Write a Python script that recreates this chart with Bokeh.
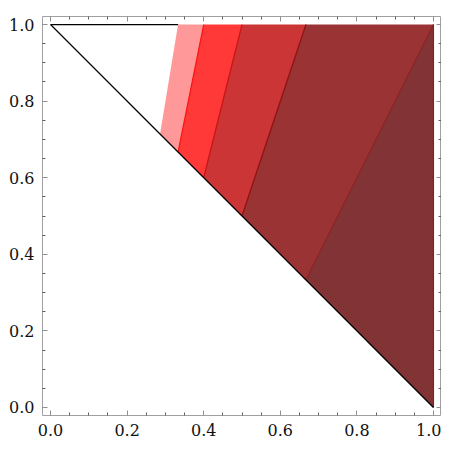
from bokeh.plotting import figure
from bokeh.models import LinearAxis, FixedTicker, PrintfTickFormatter, Range1d
from bokeh.embed import file_html
from bokeh.resources import INLINE

# Band boundaries: each runs from a point on the top edge (y = 1) to a point on the diagonal x + y = 1
top_x = [0.333, 0.4, 0.5, 0.667, 1.0]
diag_x = [0.286, 0.333, 0.4, 0.5, 0.667]
corner_x = [1.0]          # lower right corner of the triangle
corner_y = [0.0]
fill_colors = ["#FF9999", "#FF3838", "#CC3535", "#9A3334", "#813335"]
edge_colors = [None, "#FF1010", "#C80F0F", "#8A1010", "#8A2020"]

major_ticks = [0.0, 0.2, 0.4, 0.6, 0.8, 1.0]
minor_ticks = [0.05, 0.1, 0.15, 0.25, 0.3, 0.35, 0.45, 0.5, 0.55, 0.65, 0.7, 0.75, 0.85, 0.9, 0.95]

p = figure(frame_width=399, frame_height=399, output_backend="svg", toolbar_location=None,
           x_range=Range1d(-0.021, 1.021), y_range=Range1d(-0.021, 1.021),
           x_axis_location=None, y_axis_location=None,
           min_border_left=42, min_border_right=0, min_border_top=16, min_border_bottom=38)
p.grid.visible = False
p.background_fill_color = "white"
p.border_fill_color = "white"
p.outline_line_color = "#A0A0A0"
p.outline_line_width = 1

# band polygons
xs, ys = [], []
n = len(top_x)
for i in range(n - 1):
    xs.append([top_x[i], top_x[i + 1], diag_x[i + 1], diag_x[i]])
    ys.append([1.0, 1.0, 1 - diag_x[i + 1], 1 - diag_x[i]])
xs.append([top_x[-1], corner_x[0], diag_x[-1]])
ys.append([1.0, corner_y[0], 1 - diag_x[-1]])
p.patches(xs, ys, fill_color=fill_colors, line_color=None)

# boundary lines between bands
for i in range(1, n):
    p.line([top_x[i], diag_x[i]], [1.0, 1 - diag_x[i]], line_color=edge_colors[i], line_width=1.2)
p.line([corner_x[0], corner_x[0]], [1.0, corner_y[0]], line_color=edge_colors[-1], line_width=1.2)

# triangle outline (black)
p.line([0.0, corner_x[0]], [1.0, corner_y[0]], line_color="black", line_width=1.2)
p.line([0.0, top_x[0]], [1.0, 1.0], line_color="black", line_width=1.2)

def make_axis(labels):
    ax = LinearAxis(ticker=FixedTicker(ticks=major_ticks, minor_ticks=minor_ticks),
                    formatter=PrintfTickFormatter(format="%.1f"))
    ax.axis_line_color = None
    ax.major_tick_in = 5
    ax.major_tick_out = 0
    ax.minor_tick_in = 3
    ax.minor_tick_out = 0
    ax.major_tick_line_color = "#909090"
    ax.minor_tick_line_color = "#606060"
    if labels:
        ax.major_label_text_font = "DejaVu Serif"
        ax.major_label_text_font_size = "16px"
        ax.major_label_text_color = "#111111"
        ax.major_label_standoff = 8
    else:
        ax.major_label_text_font_size = "0px"
        ax.major_label_text_color = None
        ax.major_label_standoff = 0
    return ax

p.add_layout(make_axis(True), "below")
p.add_layout(make_axis(True), "left")
p.add_layout(make_axis(False), "above")
p.add_layout(make_axis(False), "right")

open("out.html", "w").write(file_html(p, INLINE))
